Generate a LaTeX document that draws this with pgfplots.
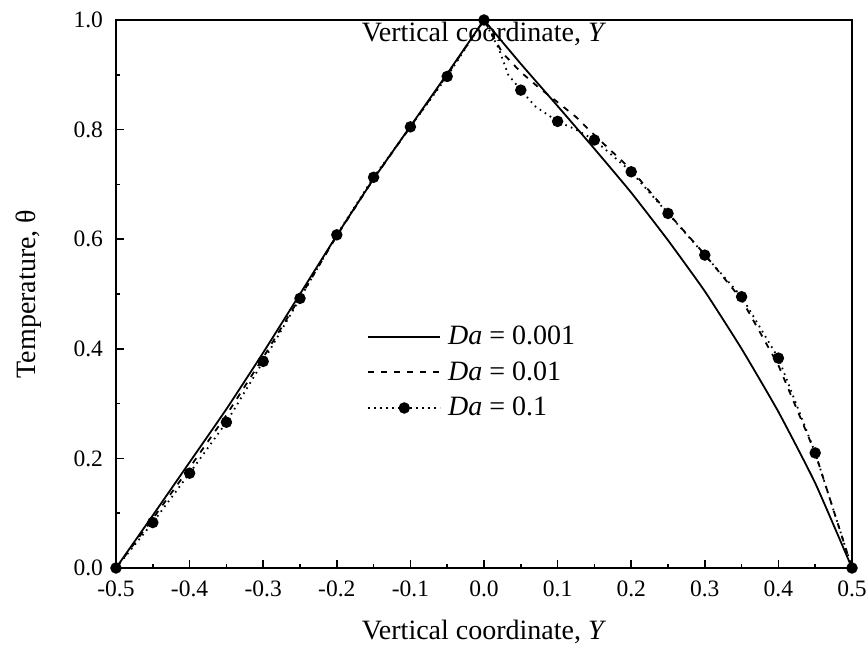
\documentclass[border=0pt]{standalone}
\usepackage{pgfplots}
\pgfplotsset{compat=1.18}
\usepackage{fontspec}
\setmainfont{Liberation Serif}
\begin{document}
\begin{tikzpicture}
\begin{axis}[
  scale only axis, width=368pt, height=274pt,
  xmin=-0.5, xmax=0.5, ymin=0, ymax=1,
  clip=false,
  xtick={-0.5,-0.4,-0.3,-0.2,-0.1,0,0.1,0.2,0.3,0.4,0.5},
  xticklabels={-0.5,-0.4,-0.3,-0.2,-0.1,0.0,0.1,0.2,0.3,0.4,0.5},
  ytick={0,0.2,0.4,0.6,0.8,1.0},
  yticklabels={0.0,0.2,0.4,0.6,0.8,1.0},
  minor x tick num=1, minor y tick num=1,
  tick align=inside, xtick pos=bottom, ytick pos=left,
  major tick length=4pt, minor tick length=2pt,
  tick style={line width=0.8pt, black},
  axis line style={line width=1pt},
  ticklabel style={font=\fontsize{11.75}{13}\selectfont},
  xticklabel style={yshift=-3pt},
  yticklabel style={xshift=-3pt},
  xlabel={Vertical coordinate, \textit{Y}},
  ylabel={Temperature, θ},
  label style={font=\fontsize{14}{16}\selectfont},
  xlabel style={at={(axis description cs:0.5,-0.117)}, anchor=center},
  ylabel style={at={(axis description cs:-0.118,0.5)}, anchor=center, rotate=0},
  every axis title shift=0pt,
  title={Vertical coordinate, \textit{Y}},
  title style={at={(axis description cs:0.5,0.9745)}, anchor=center, font=\fontsize{14}{16}\selectfont, inner sep=0pt},
  legend style={draw=none, fill=none, at={(axis description cs:0.341,0.357)}, anchor=west,
    font=\fontsize{14}{16}\selectfont, row sep=7pt, inner sep=0pt,
    nodes={inner ysep=0pt, inner xsep=3.5pt}},
  legend cell align=left,
  legend image code/.code={\draw[#1, mark indices={2}] plot coordinates {(0pt,0pt) (18pt,0pt) (36pt,0pt)};},
]
\coordinate (ll) at (rel axis cs:0,0);
\addplot[black, line width=0.9pt, smooth, tension=0.3] coordinates {
(-0.5,0) (-0.45,0.096) (-0.4,0.193) (-0.35,0.29) (-0.3,0.393) (-0.25,0.5) (-0.2,0.607) (-0.15,0.71) (-0.1,0.806) (-0.05,0.902) (0,1)};
\addlegendentry{\textit{Da} = 0.001}
\addplot[black, line width=0.9pt, dash pattern=on 3pt off 3.5pt] coordinates {
(-0.5,0) (-0.45,0.09) (-0.4,0.183) (-0.35,0.279) (-0.3,0.384) (-0.25,0.494) (-0.2,0.606) (-0.15,0.71) (-0.1,0.805) (-0.05,0.9) (0,1)
(0.025,0.94) (0.05,0.905) (0.075,0.876) (0.1,0.85) (0.125,0.823) (0.15,0.79) (0.2,0.727) (0.25,0.648) (0.3,0.572) (0.35,0.49) (0.4,0.37) (0.45,0.21) (0.5,0)};
\addlegendentry{\textit{Da} = 0.01}
\addplot[black, line width=0.9pt, dash pattern=on 0.8pt off 2.2pt, mark=*, mark size=2.4pt,
  mark options={solid}, mark indices={1,2,3,4,5,6,7,8,9,10,11,14,16,18,19,20,21,22,23,24,25}] coordinates {
(-0.5,0) (-0.45,0.083) (-0.4,0.173) (-0.35,0.266) (-0.3,0.377) (-0.25,0.492) (-0.2,0.608) (-0.15,0.713) (-0.1,0.805) (-0.05,0.897) (0,1.0)
(0.02,0.948) (0.033,0.9) (0.05,0.872) (0.07,0.842) (0.1,0.815) (0.125,0.8) (0.15,0.781) (0.2,0.723) (0.25,0.647) (0.3,0.571) (0.35,0.495) (0.4,0.383) (0.45,0.21) (0.5,0)};
\addlegendentry{\textit{Da} = 0.1}
\addplot[black, line width=0.9pt, smooth, tension=0.3, forget plot] coordinates {
(0,1) (0.05,0.92) (0.1,0.843) (0.15,0.765) (0.2,0.685) (0.25,0.598) (0.3,0.505) (0.35,0.4) (0.4,0.285) (0.45,0.155) (0.5,0)};
\end{axis}
\pgfresetboundingbox
\path (ll) ++(-58pt,-42.5pt) rectangle ++(433pt,326.5pt);
\end{tikzpicture}
\end{document}
